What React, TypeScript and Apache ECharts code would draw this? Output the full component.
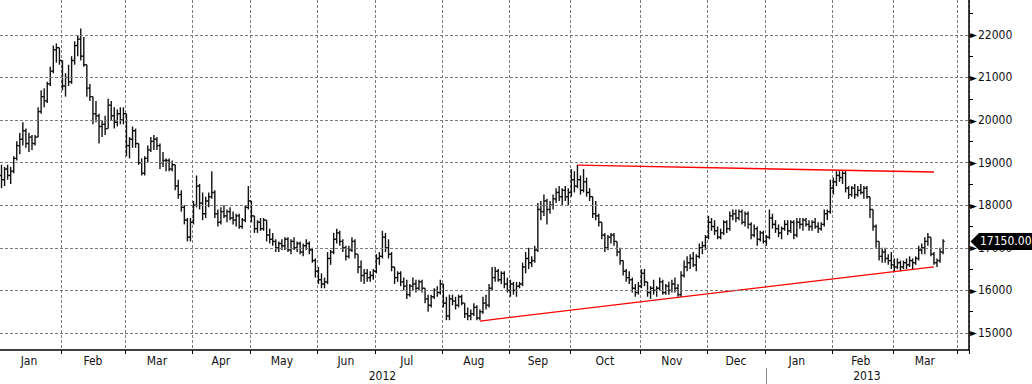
import React, { useEffect, useRef } from "react";
import * as echarts from "echarts";

// ---- calendar (trading days per month) ----
const monthNames = ["Jan", "Feb", "Mar", "Apr", "May", "Jun", "Jul", "Aug", "Sep", "Oct", "Nov", "Dec", "Jan", "Feb", "Mar", "Apr"];
const monthYears = [2012, 2012, 2012, 2012, 2012, 2012, 2012, 2012, 2012, 2012, 2012, 2012, 2013, 2013, 2013, 2013];
const monthDays = [20, 21, 22, 19, 22, 19, 22, 22, 20, 23, 22, 19, 22, 20, 21, 4];
const monthLabelled = [1, 1, 1, 1, 1, 1, 1, 1, 1, 1, 1, 1, 1, 1, 1, 0];

// ---- daily OHLC ----
const opens = [
  18700, 18600, 18850, 18700, 18800, 19100, 19400, 19550, 19750, 19450,
  19600, 19450, 19600, 20200, 20550, 20450, 20850, 21150, 21650, 21700,
  21400, 20800, 21000, 20900, 21400, 21750, 21900, 21500, 21300, 20750,
  20550, 20150, 20100, 19850, 19900, 19800, 20350, 20100, 19950, 20150,
  20000, 20150, 19400, 19550, 19750, 19450, 19000, 18750, 19100, 19300,
  19500, 19550, 19400, 19000, 19050, 19050, 18850, 18950, 18450, 18250,
  17950, 17650, 17250, 17600, 18000, 18450, 18050, 17800, 18100, 18200,
  18300, 17800, 17600, 17850, 17750, 17850, 17700, 17650, 17750, 17500,
  17650, 17950, 18100, 17750, 17450, 17600, 17450, 17650, 17300, 17200,
  17150, 17000, 17100, 17050, 17200, 16950, 17150, 17000, 17100, 16900,
  17050, 17100, 16950, 16700, 16450, 16250, 16150, 16200, 16750, 16900,
  17200, 17350, 17150, 17000, 16800, 16950, 17150, 16850, 16550, 16350,
  16400, 16300, 16350, 16450, 16750, 16800, 17250, 17000, 16850, 16550,
  16300, 16400, 16200, 16100, 15900, 16100, 16150, 16050, 16200, 16050,
  15800, 15650, 15850, 16000, 15950, 16150, 15700, 15400, 15800, 15750,
  15650, 15850, 15700, 15450, 15400, 15450, 15600, 15350, 15500, 15700,
  15650, 16050, 16300, 16450, 16250, 16400, 16150, 16000, 16150, 16000,
  16100, 16150, 16550, 16750, 16650, 16700, 16950, 17900, 17850, 18100,
  17900, 18000, 18150, 18300, 18200, 18350, 18200, 18300, 18600, 18450,
  18600, 18350, 18550, 18300, 18200, 17800, 17750, 17600, 17300, 17000,
  17250, 17300, 17150, 16900, 16700, 16450, 16300, 16250, 16050, 15950,
  16100, 16400, 16200, 15950, 16050, 16000, 16050, 16200, 15950, 16100,
  16000, 16150, 16050, 15900, 16350, 16550, 16650, 16750, 16600, 16800,
  17000, 17050, 17250, 17600, 17500, 17400, 17250, 17350, 17600, 17450,
  17750, 17800, 17700, 17850, 17600, 17800, 17550, 17300, 17450, 17200,
  17350, 17150, 17250, 17700, 17550, 17450, 17350, 17450, 17550, 17400,
  17600, 17300, 17600, 17550, 17650, 17550, 17500, 17600, 17500, 17450,
  17550, 17800, 17850, 18400, 18550, 18700, 18650, 18750, 18400, 18250,
  18400, 18250, 18350, 18300, 18400, 18200, 17900, 17500, 17150, 16800,
  16900, 16750, 16700, 16600, 16550, 16650, 16550, 16650, 16600, 16700,
  16650, 16750, 16950, 17000, 17150, 17250, 16850, 16650, 16700, 16900,
];
const highs = [
  18950, 18900, 18950, 18900, 19150, 19500, 19700, 19950, 19800, 19700,
  19650, 19650, 20300, 20700, 20750, 20900, 21250, 21750, 21800, 21700,
  21400, 21100, 21300, 21500, 21850, 22000, 22150, 21950, 21300, 20850,
  20550, 20450, 20150, 20000, 20100, 20500, 20450, 20300, 20250, 20300,
  20300, 20150, 19600, 19850, 19800, 19450, 19100, 19150, 19400, 19600,
  19650, 19600, 19450, 19250, 19100, 19100, 19050, 18950, 18600, 18350,
  18000, 17700, 17700, 18100, 18700, 18500, 18300, 18200, 18300, 18800,
  18350, 17900, 17950, 18000, 17900, 17950, 17850, 17800, 17800, 17700,
  18000, 18450, 18100, 17750, 17650, 17700, 17700, 17650, 17450, 17350,
  17200, 17150, 17200, 17250, 17250, 17200, 17250, 17150, 17150, 17100,
  17200, 17150, 17000, 16750, 16550, 16400, 16300, 16900, 16950, 17350,
  17450, 17400, 17200, 17050, 17050, 17250, 17200, 16850, 16700, 16500,
  16500, 16450, 16500, 16850, 16900, 17400, 17350, 17200, 16900, 16550,
  16450, 16450, 16300, 16250, 16150, 16300, 16250, 16250, 16250, 16050,
  15900, 15900, 16050, 16100, 16250, 16150, 15850, 15900, 15900, 15850,
  15900, 15900, 15700, 15600, 15550, 15700, 15650, 15550, 15850, 15900,
  16150, 16550, 16550, 16500, 16450, 16450, 16300, 16250, 16200, 16200,
  16200, 16650, 16900, 17000, 16800, 17050, 18050, 18100, 18250, 18150,
  18100, 18250, 18400, 18450, 18400, 18450, 18400, 18850, 18800, 18950,
  18700, 18850, 18650, 18400, 18200, 18100, 17800, 17600, 17350, 17300,
  17350, 17350, 17150, 17000, 16700, 16500, 16450, 16300, 16150, 16200,
  16500, 16500, 16200, 16100, 16250, 16100, 16300, 16250, 16150, 16200,
  16250, 16300, 16150, 16450, 16700, 16800, 16850, 16900, 16850, 17100,
  17150, 17300, 17750, 17700, 17650, 17500, 17450, 17650, 17650, 17850,
  17900, 17900, 17900, 17900, 17850, 17850, 17600, 17550, 17500, 17400,
  17400, 17300, 17900, 17800, 17650, 17550, 17500, 17650, 17650, 17650,
  17650, 17700, 17700, 17700, 17700, 17650, 17650, 17700, 17600, 17600,
  17900, 17900, 18600, 18650, 18800, 18800, 18800, 18800, 18450, 18450,
  18500, 18450, 18500, 18450, 18450, 18200, 17900, 17550, 17150, 17000,
  17000, 16850, 16900, 16750, 16750, 16700, 16700, 16750, 16800, 16750,
  16800, 17050, 17100, 17250, 17350, 17250, 16900, 16750, 17000, 17200,
];
const lows = [
  18400, 18450, 18600, 18500, 18750, 19050, 19200, 19400, 19350, 19250,
  19300, 19400, 19600, 20150, 20300, 20400, 20800, 21100, 21350, 21300,
  20700, 20550, 20800, 20850, 21300, 21500, 21400, 21250, 20550, 20450,
  19900, 19950, 19450, 19600, 19650, 19800, 20000, 19800, 19850, 19900,
  19900, 19150, 19100, 19350, 19350, 18950, 18700, 18700, 19000, 19250,
  19300, 19300, 18850, 18900, 18800, 18800, 18800, 18350, 18150, 17850,
  17550, 17150, 17150, 17550, 17950, 17900, 17650, 17700, 17950, 18150,
  17700, 17500, 17550, 17700, 17600, 17650, 17550, 17500, 17450, 17450,
  17600, 17900, 17600, 17350, 17350, 17400, 17400, 17150, 17100, 17050,
  16900, 16900, 16950, 16950, 16900, 16850, 16950, 16900, 16850, 16800,
  16950, 16850, 16650, 16300, 16150, 16050, 16050, 16150, 16600, 16850,
  17100, 17050, 16900, 16700, 16750, 16900, 16750, 16400, 16200, 16150,
  16200, 16200, 16250, 16400, 16600, 16750, 16900, 16750, 16450, 16150,
  16200, 16100, 16000, 15800, 15850, 16000, 15950, 16000, 15950, 15700,
  15500, 15600, 15800, 15850, 15900, 15600, 15300, 15300, 15650, 15550,
  15600, 15650, 15350, 15300, 15300, 15400, 15300, 15300, 15450, 15550,
  15600, 16000, 16200, 16200, 16150, 16050, 15950, 15850, 15900, 15850,
  16050, 16100, 16400, 16500, 16550, 16650, 16900, 17650, 17750, 17550,
  17800, 17900, 18050, 18100, 18000, 18100, 18000, 18200, 18300, 18400,
  18250, 18300, 18200, 18100, 17700, 17650, 17500, 17200, 16900, 16950,
  17100, 17050, 16800, 16600, 16350, 16200, 16150, 15950, 15850, 15900,
  16050, 16100, 15850, 15800, 15900, 15850, 16000, 15900, 15900, 15900,
  15950, 15950, 15850, 15850, 16300, 16450, 16500, 16550, 16450, 16750,
  16850, 16950, 17200, 17400, 17300, 17200, 17200, 17300, 17350, 17400,
  17650, 17600, 17650, 17550, 17500, 17450, 17200, 17250, 17050, 17150,
  17100, 17050, 17200, 17450, 17350, 17250, 17200, 17400, 17300, 17350,
  17200, 17250, 17450, 17400, 17500, 17400, 17400, 17450, 17350, 17400,
  17500, 17650, 17800, 18250, 18450, 18550, 18500, 18300, 18150, 18200,
  18150, 18200, 18250, 18150, 18150, 17700, 17400, 17000, 16700, 16650,
  16650, 16600, 16500, 16450, 16500, 16450, 16500, 16500, 16550, 16500,
  16600, 16700, 16850, 16850, 17050, 16800, 16600, 16550, 16650, 16850,
];
const closes = [
  18600, 18850, 18700, 18800, 19100, 19400, 19550, 19750, 19450, 19600,
  19450, 19600, 20200, 20550, 20450, 20850, 21150, 21650, 21700, 21400,
  20800, 21000, 20900, 21400, 21750, 21900, 21500, 21300, 20750, 20550,
  20150, 20100, 19850, 19900, 19800, 20350, 20100, 19950, 20150, 20000,
  20150, 19400, 19550, 19750, 19450, 19000, 18750, 19100, 19300, 19500,
  19550, 19400, 19000, 19050, 19050, 18850, 18950, 18450, 18250, 17950,
  17650, 17250, 17600, 18000, 18450, 18050, 17800, 18100, 18200, 18300,
  17800, 17600, 17850, 17750, 17850, 17700, 17650, 17750, 17500, 17650,
  17950, 18100, 17750, 17450, 17600, 17450, 17650, 17300, 17200, 17150,
  17000, 17100, 17050, 17200, 16950, 17150, 17000, 17100, 16900, 17050,
  17100, 16950, 16700, 16450, 16250, 16150, 16200, 16750, 16900, 17200,
  17350, 17150, 17000, 16800, 16950, 17150, 16850, 16550, 16350, 16400,
  16300, 16350, 16450, 16750, 16800, 17250, 17000, 16850, 16550, 16300,
  16400, 16200, 16100, 15900, 16100, 16150, 16050, 16200, 16050, 15800,
  15650, 15850, 16000, 15950, 16150, 15700, 15400, 15800, 15750, 15650,
  15850, 15700, 15450, 15400, 15450, 15600, 15350, 15500, 15700, 15650,
  16050, 16300, 16450, 16250, 16400, 16150, 16000, 16150, 16000, 16100,
  16150, 16550, 16750, 16650, 16700, 16950, 17900, 17850, 18100, 17900,
  18000, 18150, 18300, 18200, 18350, 18200, 18300, 18600, 18450, 18600,
  18350, 18550, 18300, 18200, 17800, 17750, 17600, 17300, 17000, 17250,
  17300, 17150, 16900, 16700, 16450, 16300, 16250, 16050, 15950, 16100,
  16400, 16200, 15950, 16050, 16000, 16050, 16200, 15950, 16100, 16000,
  16150, 16050, 15900, 16350, 16550, 16650, 16750, 16600, 16800, 17000,
  17050, 17250, 17600, 17500, 17400, 17250, 17350, 17600, 17450, 17750,
  17800, 17700, 17850, 17600, 17800, 17550, 17300, 17450, 17200, 17350,
  17150, 17250, 17700, 17550, 17450, 17350, 17450, 17550, 17400, 17600,
  17300, 17600, 17550, 17650, 17550, 17500, 17600, 17500, 17450, 17550,
  17800, 17850, 18400, 18550, 18700, 18650, 18750, 18400, 18250, 18400,
  18250, 18350, 18300, 18400, 18200, 17900, 17500, 17150, 16800, 16900,
  16750, 16700, 16600, 16550, 16650, 16550, 16650, 16600, 16700, 16650,
  16750, 16950, 17000, 17150, 17250, 16850, 16650, 16700, 16900, 17150,
];

// ---- trend lines (bar index, price) ----
const upperTrendIdx = [189, 306];
const upperTrendVal = [18940, 18780];
const lowerTrendIdx = [157, 306];
const lowerTrendVal = [15280, 16550];

// ---- value axis ----
const yMin = 14600;
const yMax = 22820;
const yMajorTicks = [15000, 16000, 17000, 18000, 19000, 20000, 21000, 22000];
const yMinorTicks = [15000, 15500, 16000, 16500, 17000, 17500, 18000, 18500, 19000, 19500, 20000, 20500, 21000, 21500, 22000, 22500];
const lastPrice = 17150;
const lastPriceLabel = "17150.00";

const FONT = "'DejaVu Sans Condensed', 'DejaVu Sans', sans-serif";
const W = 1032;
const H = 384;
const GRID_RIGHT = 63;

export default function App() {
  const ref = useRef<HTMLDivElement>(null);

  useEffect(() => {
    if (!ref.current) return;
    const chart = echarts.init(ref.current, undefined, { renderer: "svg" });

    const categories: string[] = [];
    const monthStarts = new Set<number>();
    const monthMids = new Set<number>();
    const yearStarts: number[] = [];
    const yearEnds: number[] = [];
    let idx = 0;
    monthDays.forEach((n, m) => {
      if (m === 0 || monthYears[m] !== monthYears[m - 1]) {
        if (m > 0) yearEnds.push(idx - 1);
        yearStarts.push(idx);
      }
      if (idx > 0) monthStarts.add(idx);
      if (monthLabelled[m]) monthMids.add(idx + Math.floor((n - 1) / 2));
      for (let k = 0; k < n; k++) categories.push(`${monthNames[m]} ${monthYears[m]} ${k + 1}`);
      idx += n;
    });
    yearEnds.push(idx - 1);
    const yearMids = new Set<number>(yearStarts.map((s, i) => s + Math.floor((yearEnds[i] - s) / 2)));
    const yearSeparators = new Set<number>(yearStarts.slice(1));

    const ohlc = closes.map((c, i) => [i, opens[i], highs[i], lows[i], c]);

    const option: any = {
      animation: false,
      backgroundColor: "#fff",
      textStyle: { fontFamily: FONT },
      grid: { left: 0, right: GRID_RIGHT, top: 0, bottom: 34, containLabel: false, outerBoundsMode: "none" },
      xAxis: [
        {
          type: "category",
          data: categories,
          boundaryGap: true,
          axisLine: { lineStyle: { color: "#000", width: 1.5 } },
          axisTick: { show: true, length: 4, interval: (i: number) => monthStarts.has(i), lineStyle: { color: "#000", width: 1 } },
          axisLabel: {
            interval: (i: number) => monthMids.has(i),
            formatter: (v: string) => v.split(" ")[0],
            color: "#111",
            fontSize: 12,
            fontFamily: FONT,
            margin: 5,
          },
          splitLine: { show: true, interval: (i: number) => monthStarts.has(i), lineStyle: { color: "#7a7a7a", type: [3, 2], width: 1 } },
        },
        {
          type: "category",
          data: categories,
          position: "bottom",
          offset: 18,
          boundaryGap: true,
          axisLine: { show: false },
          axisTick: { show: true, alignWithLabel: true, length: 16, interval: (i: number) => yearSeparators.has(i), lineStyle: { color: "#8a8a8a", width: 1 } },
          axisLabel: {
            interval: (i: number) => yearMids.has(i),
            formatter: (v: string) => v.split(" ")[1],
            color: "#111",
            fontSize: 12,
            fontFamily: FONT,
            margin: 2,
          },
          splitLine: { show: false },
        },
      ],
      yAxis: {
        type: "value",
        position: "right",
        min: yMin,
        max: yMax,
        scale: true,
        splitLine: { show: false },
        axisLine: { show: true, lineStyle: { color: "#000", width: 1.5 } },
        axisTick: { show: true, length: 4, customValues: yMinorTicks, lineStyle: { color: "#000", width: 1 } },
        axisLabel: {
          customValues: yMajorTicks,
          margin: 1,
          formatter: (v: number) => `{t|►}{v|${v}}`,
          rich: {
            t: { fontSize: 10, color: "#000", fontFamily: FONT, padding: [0, 1, 0, 0] },
            v: { fontSize: 12, color: "#111", fontFamily: FONT },
          },
        },
      },
      series: [
        {
          type: "custom",
          name: "ohlc",
          data: ohlc,
          encode: { x: 0, y: [1, 2, 3, 4] },
          z: 3,
          renderItem: (params: any, api: any) => {
            const i = api.value(0);
            const o = api.coord([i, api.value(1)]);
            const h = api.coord([i, api.value(2)]);
            const l = api.coord([i, api.value(3)]);
            const c = api.coord([i, api.value(4)]);
            const w = api.size([1, 0])[0] * 0.55;
            const x = h[0];
            const style = { stroke: "#111", lineWidth: 1.4 };
            return {
              type: "group",
              children: [
                { type: "line", shape: { x1: x, y1: h[1], x2: x, y2: l[1] }, style },
                { type: "line", shape: { x1: x - w, y1: o[1], x2: x, y2: o[1] }, style },
                { type: "line", shape: { x1: x, y1: c[1], x2: x + w, y2: c[1] }, style },
              ],
            };
          },
        },
        {
          type: "line",
          name: "grid",
          data: [],
          silent: true,
          markLine: {
            silent: true,
            symbol: ["none", "none"],
            label: { show: false },
            lineStyle: { color: "#7a7a7a", type: [3, 2], width: 1 },
            emphasis: { disabled: true },
            data: yMajorTicks.map((v) => ({ yAxis: v })),
          },
          z: 1,
        },
        {
          type: "line",
          name: "upper",
          data: upperTrendIdx.map((k, j) => [categories[k], upperTrendVal[j]]),
          symbol: "none",
          silent: true,
          lineStyle: { color: "#ff0000", width: 1.3 },
          z: 4,
        },
        {
          type: "line",
          name: "lower",
          data: lowerTrendIdx.map((k, j) => [categories[k], lowerTrendVal[j]]),
          symbol: "none",
          silent: true,
          lineStyle: { color: "#ff0000", width: 1.3 },
          z: 4,
        },
      ],
    };

    chart.setOption(option);

    const yc = chart.convertToPixel({ yAxisIndex: 0 } as any, lastPrice) as number;
    const x0 = W - GRID_RIGHT;
    chart.setOption({
      graphic: [
        {
          type: "polygon",
          z: 100,
          shape: {
            points: [
              [x0 + 1.5, yc],
              [x0 + 10, yc - 8.5],
              [W, yc - 8.5],
              [W, yc + 8.5],
              [x0 + 10, yc + 8.5],
            ],
          },
          style: { fill: "#000" },
        },
        {
          type: "text",
          z: 101,
          x: x0 + 11,
          y: yc,
          style: {
            text: lastPriceLabel,
            fill: "#fff",
            font: `12px ${FONT}`,
            verticalAlign: "middle",
            textVerticalAlign: "middle",
          },
        },
      ],
    });

    return () => chart.dispose();
  }, []);

  return <div ref={ref} style={{ position: "absolute", left: 0, top: 0, width: W, height: H }} />;
}
